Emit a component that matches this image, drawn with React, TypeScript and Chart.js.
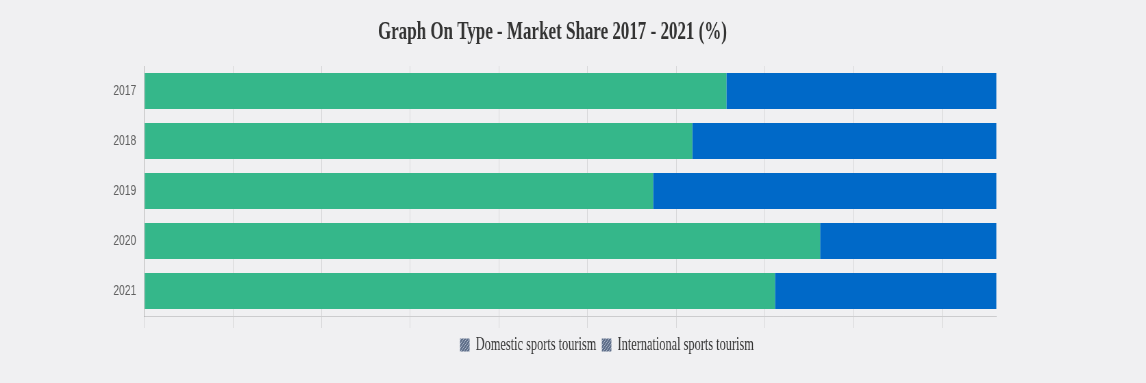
import React, { useEffect, useRef } from 'react';
import { Chart, registerables } from 'chart.js';

Chart.register(...registerables);

// ---- data ----
const years = ['2017', '2018', '2019', '2020', '2021'];
const domestic = [68.3, 64.3, 59.7, 79.3, 74.0];
const international = [31.7, 35.7, 40.3, 20.7, 26.0];
const seriesNames = ['Domestic sports tourism', 'International sports tourism'];
const titleText = 'Graph On Type - Market Share 2017 - 2021 (%)';

// ---- layout / style ----
const SQUEEZE = 0.685;
const W = 1673;
const H = 383;

function makeHatch(): CanvasPattern | string {
  const c = document.createElement('canvas');
  c.width = 4;
  c.height = 4;
  const g = c.getContext('2d');
  if (!g) return '#6b7a93';
  g.fillStyle = '#5f6f8a';
  g.fillRect(0, 0, 4, 4);
  g.strokeStyle = '#aab5c7';
  g.lineWidth = 1;
  g.beginPath();
  g.moveTo(-1, 5);
  g.lineTo(5, -1);
  g.stroke();
  return g.createPattern(c, 'repeat') || '#6b7a93';
}

const titlePlugin = {
  id: 'sketchTitle',
  afterDraw(chart: any) {
    const ctx = chart.ctx;
    ctx.save();
    ctx.font = 'bold 24.8px "Liberation Serif", "Times New Roman", serif';
    ctx.fillStyle = '#333333';
    ctx.textAlign = 'center';
    ctx.textBaseline = 'alphabetic';
    ctx.fillText(titleText, 806.5, 39);
    ctx.restore();
  },
};

export default function App() {
  const ref = useRef<HTMLCanvasElement>(null);

  useEffect(() => {
    document.body.style.margin = '0';
    const hatch = makeHatch();
    const chart = new Chart(ref.current as HTMLCanvasElement, {
      type: 'bar',
      data: {
        labels: years,
        datasets: [
          { label: seriesNames[0], data: domestic, backgroundColor: '#35b78a', borderWidth: 0 },
          { label: seriesNames[1], data: international, backgroundColor: '#0069c8', borderWidth: 0 },
        ],
      },
      options: {
        indexAxis: 'y',
        responsive: false,
        animation: false,
        devicePixelRatio: 1,
        layout: { padding: { left: 99, right: 0, top: 66, bottom: 19 } },
        scales: {
          x: {
            stacked: true,
            min: 0,
            max: 100,
            bounds: 'data',
            ticks: { display: false, stepSize: 10.4, includeBounds: false },
            afterBuildTicks: (s: any) => {
              s.ticks = s.ticks.filter((t: any) => t.value < s.max - 1);
            },
            grid: { color: 'rgba(0,0,0,0.1)', tickLength: 12 },
            border: { color: 'rgba(0,0,0,0.15)' },
          },
          y: {
            stacked: true,
            grid: { display: false, drawTicks: false },
            border: { color: 'rgba(0,0,0,0.15)' },
            ticks: {
              color: '#606060',
              padding: 12,
              font: { family: '"Liberation Sans", Arial, sans-serif', size: 15 },
            },
            afterFit: (s: any) => {
              s.width = 111.9;
            },
          },
          y2: {
            type: 'category',
            position: 'right',
            grid: { display: false, drawTicks: false },
            border: { display: false },
            ticks: { display: false },
            afterFit: (s: any) => {
              s.width = 218.3;
            },
          },
        },
        plugins: {
          title: { display: false },
          tooltip: { enabled: false },
          legend: {
            position: 'bottom',
            labels: {
              boxWidth: 14,
              boxHeight: 13,
              padding: 8,
              color: '#333333',
              font: { family: '"Liberation Serif", "Times New Roman", serif', size: 18 },
              generateLabels: (c: any) =>
                (Chart.defaults.plugins.legend.labels as any)
                  .generateLabels(c)
                  .map((l: any) => ({ ...l, fillStyle: hatch, strokeStyle: '#8c98ad', lineWidth: 0 })),
            },
          },
        },
      } as any,
      plugins: [titlePlugin],
    });
    return () => chart.destroy();
  }, []);

  return (
    <div
      style={{
        position: 'fixed',
        left: 0,
        top: 0,
        width: 1146,
        height: 383,
        overflow: 'hidden',
        background: '#f0f0f2',
      }}
    >
      <canvas
        ref={ref}
        width={W}
        height={H}
        style={{ display: 'block', transformOrigin: '0 0', transform: `scaleX(${SQUEEZE})` }}
      />
    </div>
  );
}
